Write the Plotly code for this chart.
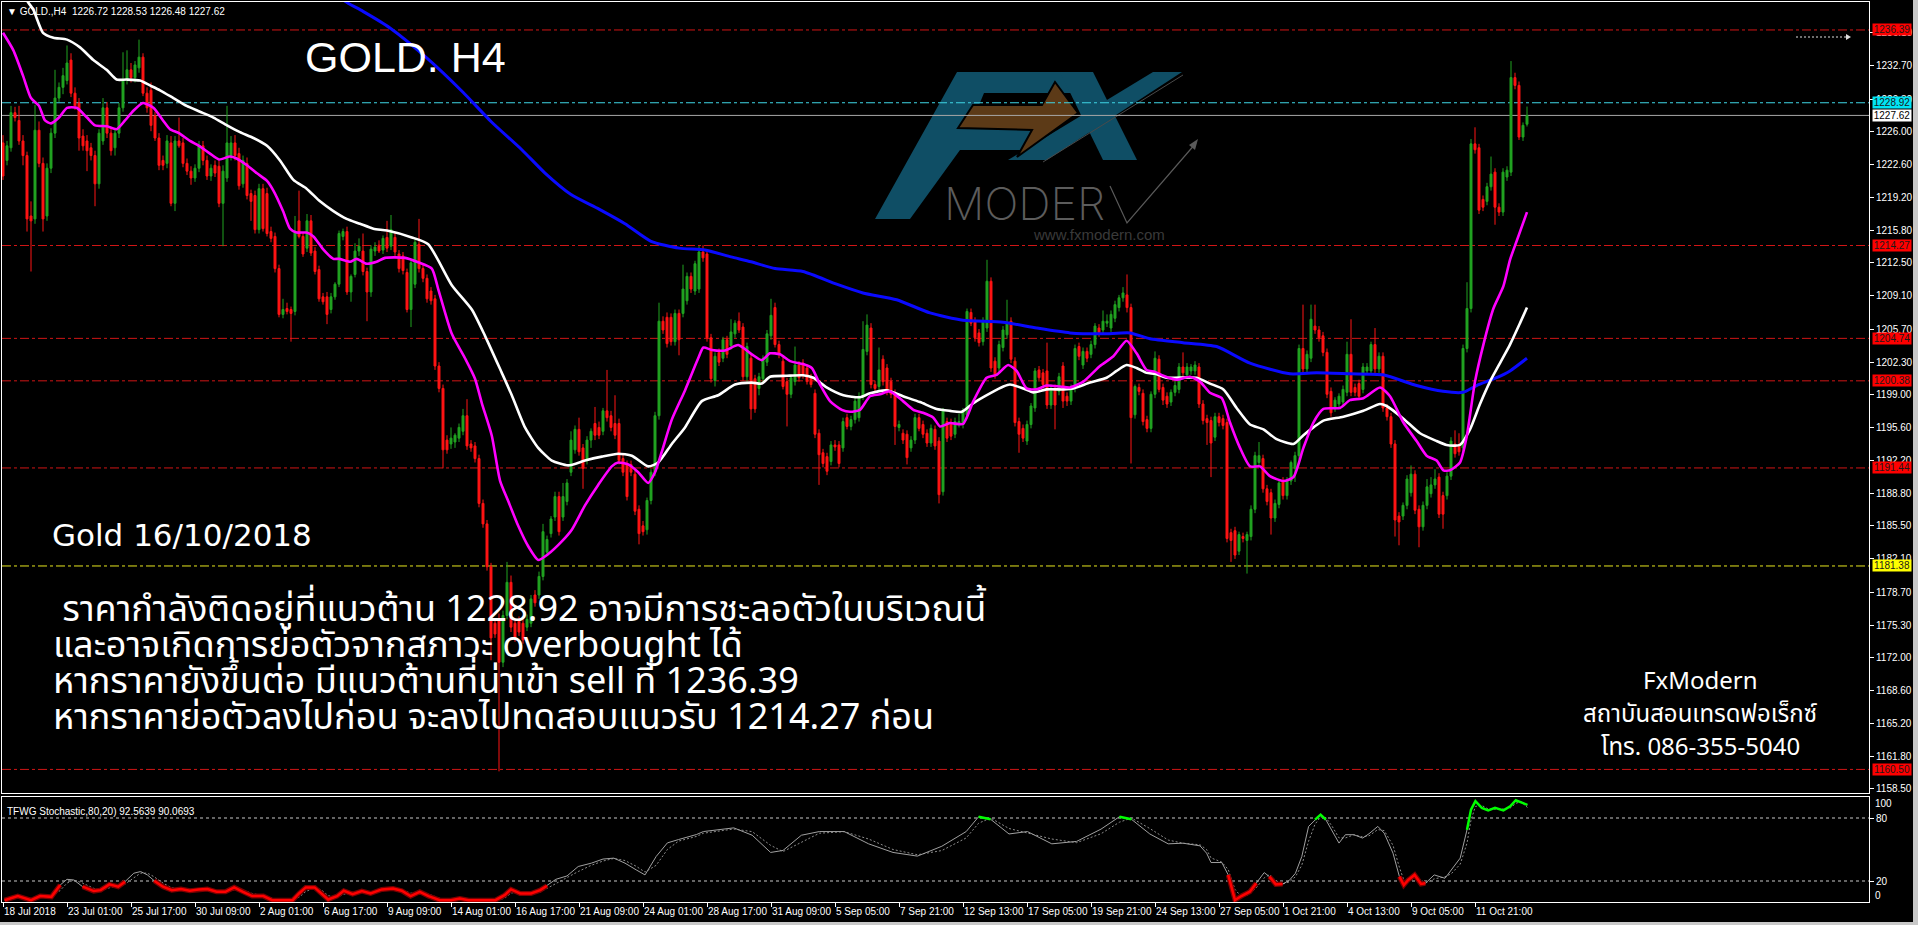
import plotly.graph_objects as go

# ---------------- DATA ----------------
opens = [
1224.8,1223.0,1224.3,1227.9,1227.1,1225.0,1223.5,1217.3,1217.0,1226.1,
1222.7,1217.3,1222.2,1225.8,1229.4,1230.5,1231.2,1233.3,1229.9,1228.9,
1225.5,1225.0,1224.3,1223.5,1220.6,1225.0,1228.4,1225.8,1224.3,1225.8,
1228.4,1231.2,1232.3,1231.5,1232.5,1233.6,1229.9,1230.2,1227.6,1225.3,
1223.0,1222.7,1224.8,1218.6,1225.0,1224.8,1222.7,1221.9,1221.2,1222.2,
1224.5,1223.0,1221.4,1222.5,1222.4,1218.6,1221.2,1223.5,1224.8,1223.7,
1220.6,1222.7,1219.6,1219.4,1215.9,1220.1,1219.6,1215.7,1215.2,1211.9,
1207.2,1207.8,1207.7,1207.5,1216.8,1215.2,1214.0,1216.8,1213.7,1211.8,
1209.0,1209.0,1207.7,1209.0,1210.3,1215.2,1215.7,1209.5,1211.3,1213.7,
1213.7,1211.6,1209.5,1213.7,1214.3,1213.8,1215.1,1214.2,1215.1,1213.4,
1213.2,1211.5,1207.7,1210.3,1214.4,1211.9,1210.9,1209.6,1208.8,1201.9,
1199.6,1194.3,1193.9,1194.1,1194.5,1195.2,1196.8,1193.9,1193.7,1192.4,
1187.8,1185.7,1181.3,1175.5,1175.9,1171.5,1176.3,1179.7,1175.5,1175.7,
1175.5,1175.1,1175.5,1178.4,1178.4,1180.3,1182.8,1184.7,1186.4,1188.5,
1186.4,1188.0,1191.0,1193.3,1195.4,1193.5,1192.2,1194.3,1196.0,1195.6,
1195.2,1197.3,1196.8,1196.0,1196.0,1192.4,1191.8,1191.8,1190.8,1187.2,
1185.5,1185.1,1188.1,1191.0,1196.8,1206.5,1206.9,1206.9,1204.4,1207.3,
1207.3,1208.6,1211.1,1209.6,1209.8,1213.6,1213.4,1204.8,1200.4,1203.3,
1202.7,1204.6,1204.0,1205.2,1206.5,1205.9,1200.8,1202.7,1200.6,1199.6,
1200.6,1202.3,1205.0,1207.9,1204.1,1202.4,1200.3,1199.0,1200.3,1202.0,
1202.2,1201.7,1200.7,1199.1,1195.0,1193.0,1192.6,1192.1,1193.8,1193.8,
1193.5,1196.6,1195.7,1196.4,1196.6,1198.8,1203.4,1205.8,1200.0,1199.8,
1202.6,1201.7,1200.3,1199.1,1195.6,1195.0,1194.9,1193.5,1194.3,1196.6,
1195.9,1195.0,1194.0,1195.4,1194.2,1189.0,1196.2,1196.1,1194.9,1196.0,
1195.9,1196.9,1207.4,1206.5,1205.3,1204.4,1205.8,1210.6,1202.4,1201.7,
1203.8,1205.1,1206.5,1202.4,1196.2,1195.5,1194.2,1195.9,1197.6,1201.5,
1201.2,1201.4,1197.9,1199.6,1199.3,1201.9,1198.8,1198.3,1199.6,1203.9,
1202.0,1203.4,1203.1,1204.1,1205.8,1205.6,1206.3,1205.8,1206.8,1207.9,
1208.9,1209.2,1207.9,1196.9,1199.7,1199.1,1196.4,1195.5,1199.0,1202.6,
1199.7,1198.8,1198.2,1199.2,1199.5,1201.8,1201.0,1201.4,1201.4,1201.8,
1198.0,1196.5,1196.3,1194.6,1196.7,1196.5,1196.1,1184.8,1185.0,1182.9,
1184.4,1184.0,1184.4,1187.2,1192.0,1192.4,1189.3,1188.9,1186.3,1187.7,
1190.1,1188.6,1190.1,1191.4,1192.7,1203.7,1201.6,1202.7,1206.0,1205.6,
1205.0,1203.3,1199.3,1197.6,1198.0,1198.2,1199.2,1203.1,1199.7,1200.1,
1199.5,1201.4,1201.4,1204.1,1201.6,1202.9,1197.6,1196.7,1193.9,1186.5,
1186.5,1187.6,1188.9,1190.8,1187.2,1185.4,1187.6,1188.8,1189.7,1190.5,
1188.6,1188.6,1190.6,1193.9,1193.7,1193.5,1203.7,1207.8,1224.7,1224.3,
1219.0,1218.8,1220.3,1221.8,1218.2,1217.7,1221.3,1221.8,1231.5,1230.7,
1225.4,1226.72]

highs = [
1225.6,1225.0,1228.6,1228.5,1228.6,1225.6,1223.9,1218.8,1228.7,1227.0,
1223.3,1222.7,1226.3,1232.3,1231.0,1232.5,1234.8,1234.0,1230.5,1229.4,
1226.2,1225.6,1224.8,1224.0,1226.2,1229.4,1229.0,1226.3,1226.2,1228.9,
1234.1,1234.3,1233.0,1233.2,1235.4,1234.0,1230.5,1231.0,1228.0,1225.8,
1223.5,1225.6,1225.5,1225.5,1227.4,1225.3,1223.2,1222.4,1222.6,1225.0,
1225.0,1223.5,1222.6,1223.0,1223.0,1222.5,1228.6,1225.5,1225.6,1224.3,
1223.5,1223.3,1220.0,1219.9,1220.6,1220.6,1220.2,1216.2,1215.6,1212.3,
1208.8,1208.4,1208.0,1217.3,1219.9,1215.6,1217.5,1217.4,1214.1,1212.2,
1209.4,1209.5,1209.4,1210.5,1215.8,1216.0,1216.2,1211.3,1214.5,1215.0,
1215.5,1212.0,1214.3,1214.6,1214.8,1215.3,1216.8,1217.4,1215.6,1213.8,
1213.6,1211.9,1212.8,1215.0,1217.0,1212.3,1211.3,1210.0,1209.2,1202.3,
1200.0,1194.8,1195.6,1195.0,1196.0,1197.5,1198.5,1194.3,1194.1,1192.8,
1188.2,1186.1,1181.7,1176.0,1176.5,1176.8,1181.8,1180.4,1176.0,1176.2,
1176.0,1176.4,1178.4,1178.9,1180.8,1185.7,1184.5,1186.5,1189.0,1189.0,
1189.9,1190.3,1195.2,1195.8,1196.6,1193.9,1194.7,1195.5,1197.7,1196.2,
1197.6,1201.5,1197.3,1198.9,1196.5,1192.8,1192.2,1192.2,1191.2,1187.6,
1186.0,1188.4,1191.3,1197.2,1208.4,1207.0,1207.4,1207.3,1207.7,1207.7,
1212.3,1211.5,1211.5,1212.7,1214.2,1214.3,1213.8,1205.2,1203.3,1203.7,
1204.9,1205.0,1206.7,1206.6,1207.4,1206.3,1204.3,1203.1,1201.0,1201.2,
1203.0,1205.6,1208.8,1208.4,1204.5,1202.8,1200.7,1201.0,1203.9,1202.4,
1202.6,1202.1,1201.1,1199.5,1195.4,1193.4,1193.0,1194.2,1194.3,1194.2,
1196.6,1197.0,1196.8,1198.7,1199.2,1206.5,1207.2,1206.3,1200.4,1203.8,
1203.0,1202.1,1200.7,1199.5,1196.3,1195.4,1195.3,1194.7,1197.0,1197.0,
1196.3,1195.4,1195.9,1195.8,1194.6,1197.6,1196.6,1196.5,1196.6,1197.0,
1197.6,1207.8,1207.8,1206.9,1205.7,1206.9,1212.8,1211.0,1202.8,1204.5,
1206.0,1208.7,1206.9,1202.8,1196.6,1195.9,1196.3,1198.1,1201.7,1201.9,
1201.6,1204.3,1200.0,1200.0,1201.2,1202.3,1199.2,1200.0,1204.1,1204.3,
1203.8,1203.8,1204.5,1206.3,1206.2,1207.6,1207.2,1207.6,1208.6,1209.2,
1210.0,1211.3,1208.3,1200.0,1200.1,1199.5,1196.8,1199.3,1203.4,1203.0,
1200.1,1199.2,1199.5,1200.4,1202.2,1203.3,1202.2,1202.1,1202.4,1202.2,
1198.4,1196.9,1196.7,1197.1,1197.1,1196.9,1196.5,1185.2,1185.4,1184.9,
1184.8,1184.9,1187.6,1193.1,1194.1,1192.8,1189.7,1189.3,1188.2,1190.1,
1190.5,1190.5,1192.2,1193.1,1204.1,1208.2,1203.5,1208.2,1208.2,1206.0,
1205.4,1203.7,1199.7,1198.7,1199.1,1199.9,1204.4,1206.7,1200.1,1200.5,
1202.2,1202.2,1204.4,1205.8,1203.3,1203.3,1198.0,1197.1,1194.3,1186.9,
1187.9,1190.7,1191.7,1191.2,1187.6,1188.0,1190.3,1190.5,1191.3,1190.9,
1189.0,1191.0,1194.6,1195.3,1195.0,1204.1,1210.5,1225.2,1226.4,1224.7,
1219.4,1220.7,1223.4,1222.2,1218.6,1222.2,1222.4,1233.2,1232.0,1231.1,
1226.9,1228.53]

lows = [
1221.0,1222.5,1223.9,1227.0,1224.6,1222.5,1215.7,1211.6,1216.5,1222.3,
1215.7,1216.8,1221.7,1225.3,1229.0,1229.8,1230.8,1229.5,1228.2,1224.0,
1224.0,1221.9,1223.0,1218.3,1220.1,1224.6,1225.3,1223.5,1223.5,1225.3,
1228.0,1230.8,1231.0,1231.0,1232.0,1229.6,1227.9,1226.0,1225.0,1222.0,
1222.0,1222.2,1218.3,1217.8,1224.3,1222.3,1221.5,1220.5,1220.8,1221.8,
1222.5,1221.0,1220.9,1221.3,1218.2,1214.2,1220.8,1223.0,1223.0,1220.0,
1220.2,1219.0,1216.8,1215.5,1215.5,1215.7,1215.2,1214.6,1211.5,1206.9,
1206.8,1207.2,1204.4,1207.1,1215.0,1213.1,1213.6,1213.2,1211.3,1208.5,
1208.2,1206.2,1207.3,1208.7,1210.0,1214.8,1209.2,1208.5,1211.0,1213.2,
1211.2,1206.5,1209.0,1213.2,1213.5,1213.4,1213.6,1213.8,1213.2,1211.5,
1211.3,1207.4,1205.9,1209.9,1211.5,1210.5,1208.4,1208.2,1201.5,1199.2,
1191.4,1192.9,1193.4,1193.5,1194.1,1194.8,1193.3,1193.1,1192.0,1187.4,
1185.3,1180.9,1171.7,1174.0,1160.3,1171.0,1175.9,1174.6,1173.6,1174.2,
1173.4,1174.7,1175.1,1177.2,1178.0,1179.9,1182.4,1184.3,1186.0,1184.5,
1186.0,1187.6,1190.6,1192.9,1192.7,1189.3,1191.8,1193.5,1194.3,1194.4,
1194.8,1196.2,1195.2,1194.4,1191.8,1190.6,1188.1,1190.6,1186.6,1183.6,
1184.5,1184.6,1187.7,1190.6,1196.4,1205.2,1203.8,1204.0,1204.0,1203.0,
1206.9,1208.2,1209.4,1209.2,1209.4,1212.6,1204.4,1200.2,1199.8,1201.9,
1202.3,1202.7,1203.6,1204.8,1205.3,1200.4,1200.3,1196.4,1197.1,1198.9,
1200.2,1201.9,1204.6,1203.8,1202.7,1199.5,1195.7,1198.6,1199.9,1200.3,
1200.6,1200.0,1199.7,1194.5,1189.7,1191.5,1190.7,1191.7,1193.2,1191.5,
1193.1,1195.4,1195.3,1196.0,1196.2,1198.4,1203.0,1199.6,1199.3,1199.4,
1199.9,1198.9,1198.6,1193.8,1195.2,1193.9,1191.8,1193.1,1193.9,1195.2,
1194.5,1193.6,1193.6,1193.3,1187.8,1188.6,1194.1,1194.3,1194.5,1195.6,
1195.5,1196.5,1206.0,1204.4,1203.9,1204.0,1205.4,1201.3,1200.6,1201.3,
1203.4,1204.7,1202.2,1195.7,1193.0,1194.1,1193.8,1195.5,1197.2,1200.3,
1199.6,1197.5,1197.5,1195.4,1198.9,1197.6,1197.8,1197.9,1199.2,1202.5,
1201.6,1202.3,1202.7,1203.7,1204.9,1205.2,1205.9,1205.4,1206.4,1207.5,
1208.5,1207.4,1191.9,1196.5,1198.9,1195.8,1195.1,1195.1,1198.6,1199.2,
1197.9,1197.6,1197.8,1198.8,1199.1,1200.8,1200.6,1201.0,1201.0,1197.6,
1195.9,1193.8,1190.5,1194.2,1195.7,1195.4,1183.8,1181.8,1182.1,1182.5,
1183.8,1180.6,1184.0,1186.8,1191.6,1188.9,1187.6,1184.6,1185.9,1187.3,
1188.2,1188.2,1189.7,1190.0,1192.3,1201.2,1201.2,1202.3,1205.2,1204.4,
1202.9,1198.6,1196.7,1197.2,1197.6,1197.8,1198.8,1198.8,1198.8,1198.4,
1199.1,1201.0,1201.0,1201.2,1201.2,1197.2,1196.3,1193.5,1184.4,1183.5,
1186.1,1187.2,1188.5,1186.7,1183.3,1185.0,1187.2,1188.4,1189.3,1186.3,
1185.2,1188.2,1190.2,1192.5,1192.7,1193.1,1203.3,1207.4,1223.7,1217.5,
1217.8,1218.4,1219.9,1216.4,1217.3,1217.3,1220.9,1221.4,1230.3,1225.1,
1225.0,1226.48]

closes = [
1221.4,1224.5,1227.9,1227.4,1225.0,1223.5,1217.0,1216.8,1226.1,1222.7,
1217.0,1222.2,1225.8,1229.4,1230.5,1231.7,1233.0,1229.9,1228.6,1225.3,
1224.5,1224.0,1223.5,1220.6,1225.8,1228.4,1225.8,1224.0,1225.8,1228.4,
1231.2,1232.3,1231.5,1232.8,1233.6,1229.9,1228.4,1226.6,1225.3,1222.5,
1222.5,1225.0,1218.6,1225.0,1224.5,1222.7,1221.9,1221.2,1222.2,1224.5,
1223.0,1221.4,1222.2,1221.7,1218.6,1221.9,1224.8,1224.8,1223.5,1220.4,
1223.0,1219.4,1218.8,1215.9,1220.1,1216.0,1215.5,1215.0,1211.9,1207.2,
1207.7,1207.5,1207.3,1215.7,1215.2,1213.4,1216.8,1213.5,1211.6,1208.8,
1208.5,1207.2,1209.0,1210.3,1215.5,1215.7,1209.5,1211.1,1213.7,1214.2,
1211.6,1209.5,1213.9,1214.1,1213.7,1215.0,1214.0,1215.9,1213.6,1211.9,
1211.7,1207.7,1212.5,1214.6,1211.9,1210.9,1208.8,1208.6,1201.9,1199.6,
1193.3,1193.3,1194.5,1194.8,1195.6,1196.8,1193.7,1193.5,1192.4,1187.8,
1185.7,1181.3,1174.0,1174.4,1171.5,1176.3,1179.7,1175.1,1174.0,1174.6,
1173.8,1175.9,1178.0,1177.6,1180.3,1184.9,1184.1,1186.2,1188.5,1184.9,
1188.5,1189.9,1194.3,1195.4,1193.1,1191.4,1194.3,1195.2,1194.8,1194.8,
1197.3,1196.6,1195.6,1194.8,1192.2,1191.0,1188.5,1191.0,1187.0,1184.7,
1184.9,1188.1,1191.0,1196.8,1206.5,1205.6,1204.2,1204.4,1207.3,1204.6,
1209.8,1211.1,1209.8,1212.4,1213.6,1213.0,1204.8,1200.6,1202.9,1202.3,
1204.6,1203.1,1205.4,1206.3,1205.6,1200.8,1203.9,1197.5,1197.5,1200.8,
1202.7,1205.2,1207.1,1204.1,1203.1,1199.8,1199.0,1200.7,1202.0,1200.7,
1201.0,1200.3,1200.0,1194.9,1192.8,1191.9,1191.1,1193.8,1193.6,1191.9,
1196.2,1195.7,1196.4,1198.3,1198.8,1203.6,1206.1,1200.0,1199.6,1201.5,
1200.3,1199.3,1199.0,1195.7,1195.9,1194.3,1192.5,1194.3,1196.6,1195.5,
1194.9,1194.0,1195.5,1193.7,1188.7,1197.3,1194.5,1194.7,1196.2,1196.2,
1197.3,1207.5,1206.3,1204.8,1204.3,1206.5,1210.6,1201.7,1201.0,1204.1,
1205.6,1206.3,1202.6,1196.1,1194.9,1194.5,1195.9,1197.8,1201.4,1200.7,
1200.0,1197.9,1199.6,1197.9,1200.8,1198.3,1198.3,1199.6,1203.7,1202.9,
1203.4,1202.7,1204.1,1206.0,1205.3,1206.5,1206.5,1207.2,1208.2,1208.9,
1209.4,1207.9,1196.6,1199.8,1199.3,1196.2,1195.5,1199.0,1202.7,1199.5,
1198.4,1198.0,1199.2,1199.9,1201.8,1201.2,1201.8,1201.8,1202.0,1198.0,
1196.3,1196.1,1194.0,1196.7,1196.1,1195.8,1184.2,1184.0,1182.5,1184.6,
1184.2,1184.6,1187.2,1192.7,1192.7,1189.3,1188.0,1186.3,1187.8,1189.9,
1188.6,1190.1,1192.0,1192.7,1203.7,1201.6,1203.1,1206.7,1205.6,1204.8,
1203.3,1199.0,1197.1,1198.4,1198.8,1199.5,1203.1,1199.2,1199.2,1198.8,
1201.8,1201.8,1204.1,1201.6,1202.9,1197.6,1196.7,1193.9,1186.1,1185.9,
1187.6,1190.3,1190.8,1187.1,1185.4,1187.6,1189.5,1189.7,1190.3,1186.7,
1186.7,1190.6,1194.2,1192.9,1193.1,1203.7,1207.8,1224.7,1224.1,1217.9,
1218.2,1220.3,1221.6,1218.2,1217.7,1221.8,1222.0,1231.5,1230.7,1225.4,
1226.6,1227.62]

# moving averages (magenta fast, white medium, blue slow), sampled along the bars
fast_x = [0,2.6,5,7,9,10.5,12,14,16,18.4,
          21,23,26,28.4,30.5,32.6,35,37.6,40,41.75,
          44,46.75,49,51.75,54,56.75,58.4,61,63.4,66,
          67.6,70,71.75,73.4,75.9,77.6,80,82.6,84,86.75,
          88.4,90.9,93.4,95.5,100.5,103.8,107.2,108.8,112.2,115.5,
          118,119.7,122.2,124.25,126.3,128.8,131.3,133.8,136.3,139.7,
          142.2,145.5,148.8,152.2,153.8,156.3,158.8,161.3,163,164.7,
          167.2,170.5,173.8,175.1,177.2,180.5,183.8,187.2,189.7,191.75,
          194.25,196.75,200,202.2,204.25,206.75,209.7,211.75,214.25,216.75,
          219.25,221.75,225,227.6,230,232.6,234.25,236.75,240,242.6,
          245.9,248.4,251.3,253.4,255.9,258.4,260.9,264.25,266.75,270.1,
          274.25,277.6,280.9,283.4,285.9,288,290.1,293.4,296.75,299.25,
          301.75,304.7,306.75,309.25,311.75,314.25,316.75,320.1,322.6,325.1,
          327.6,330.1,334.25,336.75,340.1,344.25,346.75,350.1,353.4,355.9,
          358.4,360.1,361.75,364.25,365.9,368,370.1,372.6,375.1,376.75,
          378.4,381]
fast_y = [1236.1,1234.3,1231.7,1229.4,1228.6,1227.1,1226.8,1227.4,1228.4,1228.4,
          1227.4,1226.6,1226.5,1226.2,1227.1,1228.1,1228.9,1228.4,1227.1,1226.2,
          1225.8,1225.0,1224.5,1223.7,1223.1,1223.4,1223.2,1222.5,1221.7,1220.9,
          1219.9,1217.8,1216.0,1215.6,1215.6,1215.2,1213.9,1212.9,1212.9,1212.6,
          1212.9,1212.4,1212.6,1213.0,1213.0,1212.55,1211.9,1209.8,1205.2,1202.7,
          1200.6,1198.1,1194.75,1190.15,1188.05,1185.5,1183.4,1182.0,1182.6,1183.9,
          1185.1,1187.6,1189.7,1191.6,1192.0,1191.8,1191.0,1189.9,1191.0,1193.1,
          1196.4,1199.4,1202.7,1203.8,1203.55,1203.5,1204.05,1203.1,1202.5,1203.2,
          1203.1,1202.4,1202.1,1201.7,1200.0,1198.3,1197.4,1197.2,1197.4,1198.8,
          1199.0,1199.3,1198.3,1197.4,1197.1,1196.6,1195.7,1196.05,1195.95,1198.3,
          1200.7,1201.0,1202.0,1201.4,1199.6,1199.5,1199.9,1199.8,1199.7,1200.3,
          1201.9,1202.9,1204.5,1203.2,1201.5,1201.3,1200.9,1200.5,1200.8,1200.3,
          1199.15,1198.6,1196.1,1193.5,1191.6,1191.6,1190.6,1190.1,1190.5,1193.5,
          1196.1,1197.5,1197.6,1198.4,1198.6,1199.7,1198.8,1196.1,1194.2,1192.7,
          1192.2,1191.2,1191.2,1192.0,1194.6,1200.3,1204.1,1207.8,1210.1,1212.8,
          1214.7,1217.7]

mid_x = [4,6,7.6,10,12.6,16,19.25,22.6,25.9,28.4,
         30.9,34.25,36.75,39.25,42.6,45.9,49.25,52.6,56,59.25,
         62.6,66,69.25,72.6,75.9,79.25,82.6,85.9,89.25,92.6,
         96,102.2,106.3,112.2,117.2,120.5,124.7,127.2,130.5,133.8,
         137.2,141.3,145.5,149.7,153.8,157.2,161.3,163.8,167.2,170.5,
         174.7,178.8,183,187.2,189.7,191.75,196,200,202.6,205.9,
         210.1,214.25,216.75,220.9,225,229.25,233.4,236.75,239.7,242.6,
         246.75,250.1,251.75,255.1,257.6,260.9,265.1,267.6,271.75,275.9,
         278.4,280.9,283.4,285.9,288,290.9,298.4,301.75,305.1,308.4,
         311.75,315.1,318.4,322.6,325.1,327.6,330.1,335.1,340.1,344.25,
         345.9,350.1,354.25,358.4,360.9,364.25,366.75,369.25,371.75,374.25,
         376.75,379.25,381]
mid_y = [1241.0,1239.4,1238.45,1236.1,1235.6,1235.4,1234.6,1233.3,1232.3,1231.3,
         1231.3,1231.2,1230.7,1230.2,1229.4,1228.6,1228.0,1227.4,1226.6,1225.9,
         1225.3,1224.5,1223.0,1221.0,1220.1,1218.8,1217.8,1217.0,1216.5,1216.0,
         1215.8,1215.1,1214.4,1210.2,1207.7,1205.0,1201.2,1198.9,1195.6,1193.5,
         1192.2,1191.7,1192.2,1192.6,1192.9,1192.7,1191.6,1192.0,1193.9,1195.6,
         1198.3,1198.9,1200.0,1200.2,1200.1,1200.8,1200.9,1200.95,1200.7,1199.7,
         1198.9,1198.7,1199.1,1199.4,1198.8,1198.2,1197.5,1197.3,1197.2,1198.1,
         1199.1,1199.8,1200.0,1199.6,1199.2,1199.5,1199.5,1199.6,1200.2,1200.7,
         1201.4,1202.0,1201.7,1201.2,1201.1,1200.7,1200.7,1200.1,1199.5,1197.6,
         1195.9,1195.4,1194.4,1193.9,1194.8,1195.6,1196.3,1196.7,1197.3,1198.0,
         1197.8,1196.5,1195.0,1194.2,1193.8,1193.8,1195.4,1198.0,1200.3,1202.2,
         1204.1,1206.3,1207.9]

slow_x = [84,86,90,96.75,106,115,122,129.7,135.5,142,
          149,155.5,162,169,175.5,182,187,193,200,208.4,
          215,223.4,231.75,240,250,258.4,266.75,275,281.75,286.75,
          295,303.4,311.75,321.75,328.4,336.75,345,353.4,360,365,
          368.4,373.4,376.75,381]
slow_y = [1239.8,1239.2,1238.3,1236.6,1233.5,1230.0,1227.0,1224.1,1221.7,1219.5,
          1218.0,1216.5,1214.7,1214.0,1213.8,1213.1,1212.6,1211.9,1211.6,1210.3,
          1209.4,1208.7,1207.35,1206.6,1206.4,1205.8,1205.3,1205.2,1205.3,1204.7,
          1204.3,1203.9,1202.2,1201.1,1201.2,1201.1,1201.0,1199.9,1199.3,1199.2,
          1199.9,1200.7,1201.4,1202.7]

# stochastic (main %K and dashed signal), sampled along the bars
stoch_x = [0.4,3.7,7,9.3,12.1,14.3,16,17.7,19.9,22.7,
           24.4,26.6,28.8,30.5,32.7,34.4,36.1,37.8,40,42.2,
           44.5,46.7,48.9,51.1,53.4,55.6,57.8,60,62.3,65.1,
           67.3,70.1,72.4,74,75.7,77.9,79.6,81.3,83.5,85.2,
           87.4,89.7,91.9,94.7,97.5,99.7,101.9,104.2,106.4,109.2,
           112,114.2,116.4,119.8,123.1,125.4,127,129.3,132,134.3,
           136,138.2,141,143.8,147.1,150,152.7,155.5,158.3,160.5,
           163.3,166.1,168.9,173.4,175.1,182.7,187.3,191.9,195,199.6,
           204.1,210.3,216.4,222.5,228.6,234.7,240.8,243.9,246.9,251.5,
           256.1,262.2,268.4,274.5,279.1,282.1,286.7,291.3,295,299.25,
           300.9,302,304.7,306.3,308,309.6,311.7,313.3,315.3,316.6,
           318.2,319.9,321.5,323.1,324.7,326.4,328,329.4,330.7,332.3,
           334,335.6,337.7,339.9,341.5,343.7,345.3,347.5,349.1,350.2,
           351.3,352.9,354.5,355.6,357.8,360.5,362.1,364.3,366,367,
           368.1,369.7,371.3,373,375.1,376.8,378.2,379.5,381.1]
stoch_k = [1.7,5.6,1.7,5.6,4.9,16.2,21.6,21.0,14.6,10.4,
           11.3,16.8,14.6,19.4,27.4,29.0,25.8,20.3,14.6,11.3,
           12.3,10.7,12.0,12.3,9.7,9.7,13.9,9.7,5.6,5.6,
           1.7,1.7,1.7,8.1,13.9,13.9,8.1,2.4,5.6,10.7,
           7.5,10.4,8.1,12.0,12.9,10.7,5.6,9.7,5.6,1.7,
           1.7,3.3,1.7,1.7,1.7,6.5,12.0,8.1,8.1,11.3,
           15.5,21.6,24.8,33.8,37.0,40.9,41.8,37.0,30.6,25.8,
           43.4,56.3,59.5,64.3,67.1,70.6,63.6,47.2,49.1,63.6,
           67.1,67.1,55.4,47.2,43.7,53.1,67.1,81.2,78.8,64.8,
           67.1,55.4,57.7,69.4,81.2,78.8,64.8,55.4,56.0,53.5,
           46.5,37.6,37.6,25.9,1.9,5.7,9.8,17.8,28.0,24.2,
           16.8,17.2,20.3,27.3,43.3,72.0,78.4,83.2,78.4,67.2,
           56.1,64.1,64.1,60.9,65.0,72.0,65.6,46.5,24.2,16.2,
           21.0,25.8,17.2,17.8,25.8,22.6,30.6,41.8,68.8,88.0,
           96.0,89.6,87.3,89.6,87.3,91.2,96.9,95.0,92.56]
stoch_d = [3,4,3.5,4,5,11,18,21,18,13,
           11,13.5,15.5,17,23,27.5,27.5,24,18,13.5,
           12,11.5,11.5,12,11,10,11.5,11.5,8,6,
           3.5,2,1.7,4.5,10,13.5,11.5,6,4.5,7.5,
           8.5,9,9,10.5,12.5,11.5,8.5,7.5,7.5,3.5,
           1.7,2.5,2.5,1.7,1.7,3.5,8.5,10,8.5,9.5,
           13,18,23,29,35,39,41.5,39.5,34,28.5,
           35,50,58,62.5,65.5,69.5,67,54,48,57,
           65.5,67,60,50,45,49,61,75,80,70,
           66,60,56.5,65,76,80,70,59,56,54.5,
           50,42,38,31,12,5,7.5,13.5,23,26,
           20.5,17,19,24,35,58,74,81,80.5,72,
           61,61,64,62,63,69,68,54,33,21,
           19,23,21,18,22,24,27,36,56,78,
           91,92,88.5,88.5,88.5,89.5,94,95.5,90.07]

red_spans = [(0, 14.3), (18.2, 30.5), (37.2, 137.5), (306, 313.5), (316, 320), (348.8, 356)]
green_spans = [(242.5, 248), (278, 283), (327.5, 331.5), (365.5, 381.2)]

# price axis and time axis labels
price_ticks = [1236.10, 1232.70, 1229.30, 1226.00, 1222.60, 1219.20, 1215.80, 1212.50,
               1209.10, 1205.70, 1202.30, 1199.00, 1195.60, 1192.20, 1188.80, 1185.50,
               1182.10, 1178.70, 1175.30, 1172.00, 1168.60, 1165.20, 1161.80, 1158.50]
time_tick_bars = [0, 16, 32, 48, 64, 80, 96, 112, 128, 144, 160, 176,
                  192, 208, 224, 240, 256, 272, 288, 304, 320, 336, 352, 368]
time_tick_labels = ["18 Jul 2018", "23 Jul 01:00", "25 Jul 17:00", "30 Jul 09:00", "2 Aug 01:00",
                    "6 Aug 17:00", "9 Aug 09:00", "14 Aug 01:00", "16 Aug 17:00", "21 Aug 09:00",
                    "24 Aug 01:00", "28 Aug 17:00", "31 Aug 09:00", "5 Sep 05:00", "7 Sep 21:00",
                    "12 Sep 13:00", "17 Sep 05:00", "19 Sep 21:00", "24 Sep 13:00", "27 Sep 05:00",
                    "1 Oct 21:00", "4 Oct 13:00", "9 Oct 05:00", "11 Oct 21:00"]

# horizontal price levels drawn on the chart
level_prices = [1236.39, 1228.92, 1214.27, 1204.74, 1200.38, 1191.44, 1181.38, 1160.50]
level_line_colors = ["#d01515", "#3fd6e6", "#d01515", "#d01515", "#d01515", "#d01515", "#e6e61e", "#d01515"]
level_box_colors = ["#ff0000", "#00e5f5", "#ff0000", "#ff0000", "#ff0000", "#ff0000", "#ffff00", "#ff0000"]
bid_price = 1227.62

# ---------------- FIGURE ----------------
W, H = 1918, 925
PL, PR, PT, PB = 2, 1869, 2, 902          # plot area in pixels
MAIN_BOTTOM, STOCH_TOP = 793, 797


def px(x):
    return (x - PL) / (PR - PL)


def py(y):
    return (PB - y) / (PB - PT)


def poly(points, close=True):
    s = "M " + " L ".join(f"{px(x):.5f},{py(y):.5f}" for x, y in points)
    return s + (" Z" if close else "")


AX_FAMILY = "Liberation Sans, Arial, sans-serif"
TICK_FONT = dict(family=AX_FAMILY, size=10, color="white")
THAI_FONT = "Noto Sans Thai, Loma, Tlwg Typo, Garuda, Waree, Sarabun, Tahoma, Noto Sans, sans-serif"

bars = list(range(len(closes)))
fig = go.Figure()

fig.add_trace(go.Candlestick(
    x=bars, open=opens, high=highs, low=lows, close=closes,
    increasing=dict(line=dict(color="#21a321", width=1), fillcolor="#21a321"),
    decreasing=dict(line=dict(color="#ff1414", width=1), fillcolor="#ff1414"),
    whiskerwidth=0, showlegend=False, hoverinfo="skip", xaxis="x", yaxis="y"))

fig.add_trace(go.Scatter(x=slow_x, y=slow_y, mode="lines", line=dict(color="#0a0aff", width=3, shape="spline", smoothing=0.6),
                         showlegend=False, hoverinfo="skip", xaxis="x", yaxis="y"))
fig.add_trace(go.Scatter(x=mid_x, y=mid_y, mode="lines", line=dict(color="#ffffff", width=2.6, shape="spline", smoothing=0.6),
                         showlegend=False, hoverinfo="skip", xaxis="x", yaxis="y"))
fig.add_trace(go.Scatter(x=fast_x, y=fast_y, mode="lines", line=dict(color="#ff00ff", width=2.6, shape="spline", smoothing=0.6),
                         showlegend=False, hoverinfo="skip", xaxis="x", yaxis="y"))

# stochastic
fig.add_trace(go.Scatter(x=stoch_x, y=stoch_d, mode="lines", line=dict(color="#8c8c8c", width=1, dash="2px,2px"),
                         showlegend=False, hoverinfo="skip", xaxis="x2", yaxis="y2"))
fig.add_trace(go.Scatter(x=stoch_x, y=stoch_k, mode="lines", line=dict(color="#a0a0a0", width=1),
                         showlegend=False, hoverinfo="skip", xaxis="x2", yaxis="y2"))


def span_points(spans):
    xs, ys = [], []
    for a, b in spans:
        for xv, yv in zip(stoch_x, stoch_k):
            if a <= xv <= b:
                xs.append(xv)
                ys.append(yv)
        xs.append(None)
        ys.append(None)
    return xs, ys


rx, ry = span_points(red_spans)
gx, gy = span_points(green_spans)
fig.add_trace(go.Scatter(x=rx, y=ry, mode="lines", line=dict(color="#7a0000", width=5), connectgaps=False,
                         showlegend=False, hoverinfo="skip", xaxis="x2", yaxis="y2"))
fig.add_trace(go.Scatter(x=rx, y=ry, mode="lines", line=dict(color="#ff0000", width=2.5), connectgaps=False,
                         showlegend=False, hoverinfo="skip", xaxis="x2", yaxis="y2"))
fig.add_trace(go.Scatter(x=gx, y=gy, mode="lines", line=dict(color="#00ff00", width=2.5), connectgaps=False,
                         showlegend=False, hoverinfo="skip", xaxis="x2", yaxis="y2"))

shapes = []
# ----- FX MODERN watermark logo -----
teal = "#0f4e65"
shapes.append(dict(type="path", xref="paper", yref="paper", layer="below", line=dict(width=0), fillcolor=teal,
                   path=poly([(875, 219), (957, 72), (1093, 72), (1080, 93), (984, 93), (970, 127),
                              (1047, 127), (1033, 150), (960, 150), (910, 219)])))
shapes.append(dict(type="path", xref="paper", yref="paper", layer="below", line=dict(width=0), fillcolor=teal,
                   path=poly([(1060, 72), (1093, 72), (1137, 160), (1103, 160)])))
shapes.append(dict(type="path", xref="paper", yref="paper", layer="below", line=dict(width=0), fillcolor=teal,
                   path=poly([(1153, 72), (1182, 72), (1047, 160), (1008, 160)])))
shapes.append(dict(type="path", xref="paper", yref="paper", layer="below", line=dict(color="#000000", width=2),
                   fillcolor="#5c3a17",
                   path=poly([(958, 128), (973, 105), (1042, 105), (1055, 82), (1078, 113), (1017, 157), (1032, 130)])))
shapes.append(dict(type="path", xref="paper", yref="paper", layer="below", line=dict(color="#4a4a4a", width=1),
                   path=poly([(1043, 162), (1183, 75)], close=False)))
shapes.append(dict(type="path", xref="paper", yref="paper", layer="below", line=dict(color="#5a5a5a", width=1.2),
                   path=poly([(1110, 186), (1127, 223), (1196, 143)], close=False)))
shapes.append(dict(type="path", xref="paper", yref="paper", layer="below", line=dict(width=0), fillcolor="#5a5a5a",
                   path=poly([(1198, 139), (1189, 145), (1195, 150)])))

# ----- horizontal levels -----
for p, c in zip(level_prices, level_line_colors):
    shapes.append(dict(type="line", xref="paper", x0=0, x1=1, yref="y", y0=p, y1=p, layer="below",
                       line=dict(color=c, width=1, dash="9px,3px,3px,3px")))
shapes.append(dict(type="line", xref="paper", x0=0, x1=1, yref="y", y0=bid_price, y1=bid_price, layer="below",
                   line=dict(color="#a8a8a8", width=1)))
for lv in (80, 20):
    shapes.append(dict(type="line", xref="paper", x0=0, x1=1, yref="y2", y0=lv, y1=lv, layer="below",
                       line=dict(color="#c8c8c8", width=1, dash="3px,3px")))

# shift marker (top right)
shapes.append(dict(type="line", xref="paper", yref="paper", x0=px(1796), x1=px(1846), y0=py(37), y1=py(37),
                   line=dict(color="#dddddd", width=1, dash="2px,2px")))
shapes.append(dict(type="path", xref="paper", yref="paper", line=dict(width=0), fillcolor="#dddddd",
                   path=poly([(1846, 34), (1851, 37), (1846, 40)])))
# light window frame at the right and bottom edges
shapes.append(dict(type="rect", xref="paper", yref="paper", x0=px(1913), x1=px(1920), y0=py(930), y1=py(-5),
                   line=dict(width=0), fillcolor="#c8c8c8"))
shapes.append(dict(type="rect", xref="paper", yref="paper", x0=px(-5), x1=px(1920), y0=py(930), y1=py(922),
                   line=dict(width=0), fillcolor="#c8c8c8"))

annotations = []
# price boxes on the axis
for p, bc in zip(level_prices, level_box_colors):
    annotations.append(dict(xref="paper", x=1, xanchor="left", xshift=3, yref="y", y=p, yanchor="middle",
                            text=f"{p:.2f}", showarrow=False, bgcolor=bc, borderpad=0, width=38, height=11,
                            font=dict(family=AX_FAMILY, size=10, color="#1a1a1a")))
annotations.append(dict(xref="paper", x=1, xanchor="left", xshift=3, yref="y", y=bid_price, yanchor="middle",
                        text=f"{bid_price:.2f}", showarrow=False, bgcolor="#ffffff", borderpad=0, width=38, height=11,
                        font=dict(family=AX_FAMILY, size=10, color="#000000")))
# stochastic 100 / 0 labels
annotations.append(dict(xref="paper", x=1, xanchor="left", xshift=4, yref="paper", y=py(803), yanchor="middle",
                        text="100", showarrow=False, font=TICK_FONT))
annotations.append(dict(xref="paper", x=1, xanchor="left", xshift=4, yref="paper", y=py(895), yanchor="middle",
                        text="0", showarrow=False, font=TICK_FONT))

header = f"▼ GOLD.,H4  {opens[-1]:.2f} {highs[-1]:.2f} {lows[-1]:.2f} {closes[-1]:.2f}"
annotations.append(dict(xref="paper", yref="paper", x=px(5), y=py(11), xanchor="left", yanchor="middle",
                        text=header, showarrow=False, font=TICK_FONT))
annotations.append(dict(xref="paper", yref="paper", x=px(5), y=py(811), xanchor="left", yanchor="middle",
                        text="TFWG Stochastic,80,20) 92.5639 90.0693", showarrow=False, font=TICK_FONT))

# logo texts
annotations.append(dict(xref="paper", yref="paper", x=px(942), y=py(203), xanchor="left", yanchor="middle",
                        text="MODER", showarrow=False,
                        font=dict(family="Inter, Lato, Liberation Sans, sans-serif", size=45, color="#5c5c5c",
                                  weight=200)))
annotations.append(dict(xref="paper", yref="paper", x=px(1099), y=py(235), xanchor="center", yanchor="middle",
                        text="www.fxmodern.com", showarrow=False,
                        font=dict(family="Liberation Sans, Arial, sans-serif", size=15, color="#3a3a3a")))

# chart texts
annotations.append(dict(xref="paper", yref="paper", x=px(303), y=py(57), xanchor="left", yanchor="middle",
                        text="GOLD. H4", showarrow=False,
                        font=dict(family="Liberation Sans, Arial, sans-serif", size=43, color="white")))
annotations.append(dict(xref="paper", yref="paper", x=px(50), y=py(535), xanchor="left", yanchor="middle",
                        text="Gold 16/10/2018", showarrow=False,
                        font=dict(family="DejaVu Sans, sans-serif", size=31, color="white")))
thai_lines = [" ราคากำลังติดอยู่ที่แนวต้าน 1228.92 อาจมีการชะลอตัวในบริเวณนี้",
              "และอาจเกิดการย่อตัวจากสภาวะ overbought ได้",
              "หากราคายังขึ้นต่อ มีแนวต้านที่น่าเข้า sell ที่ 1236.39",
              "หากราคาย่อตัวลงไปก่อน จะลงไปทดสอบแนวรับ 1214.27 ก่อน"]
for i, line in enumerate(thai_lines):
    annotations.append(dict(xref="paper", yref="paper", x=px(51), y=py(610 + 36 * i), xanchor="left",
                            yanchor="middle", text=line, showarrow=False,
                            font=dict(family=THAI_FONT, size=36, color="white")))
right_lines = ["FxModern", "สถาบันสอนเทรดฟอเร็กซ์", "โทร. 086-355-5040"]
for i, line in enumerate(right_lines):
    annotations.append(dict(xref="paper", yref="paper", x=px(1700), y=py(682 + 33 * i), xanchor="center",
                            yanchor="middle", text=line, showarrow=False,
                            font=dict(family=THAI_FONT, size=24, color="white")))

x_range = [(PL - 3) / 4, (PR - 3) / 4]
main_dom = [py(MAIN_BOTTOM), 1]
stoch_dom = [0, py(STOCH_TOP)]

fig.update_layout(
    width=W, height=H, autosize=False,
    margin=dict(l=PL, r=W - PR, t=PT, b=H - PB, pad=0, autoexpand=False),
    paper_bgcolor="black", plot_bgcolor="black",
    showlegend=False,
    xaxis=dict(domain=[0, 1], anchor="y", range=x_range, showgrid=False, zeroline=False, automargin=False,
               showline=True, mirror=True, linecolor="white", linewidth=1,
               showticklabels=False, ticks="", rangeslider=dict(visible=False), fixedrange=True),
    yaxis=dict(domain=main_dom, anchor="x", side="right", range=[1158.08, 1239.26], showgrid=False,
               zeroline=False, showline=True, mirror=True, linecolor="white", linewidth=1, automargin=False,
               tickvals=price_ticks, ticktext=[f"{v:.2f}" for v in price_ticks],
               ticks="outside", ticklen=4, tickcolor="white", tickfont=TICK_FONT),
    xaxis2=dict(domain=[0, 1], anchor="y2", range=x_range, matches="x", showgrid=False, zeroline=False,
                showline=True, mirror=True, linecolor="white", linewidth=1, automargin=False,
                tickvals=time_tick_bars, ticktext=time_tick_labels, ticks="outside", ticklen=4,
                tickcolor="white", tickfont=TICK_FONT, ticklabelposition="outside right", tickangle=0),
    yaxis2=dict(domain=stoch_dom, anchor="x2", side="right", range=[0, 100], showgrid=False,
                zeroline=False, showline=True, mirror=True, linecolor="white", linewidth=1, automargin=False,
                tickvals=[80, 20], ticktext=["80", "20"], ticks="outside", ticklen=4,
                tickcolor="white", tickfont=TICK_FONT),
    shapes=shapes, annotations=annotations,
)

fig.write_html("out.html", config={"displayModeBar": False},
               post_script="document.body.style.margin='0';document.body.style.overflow='hidden';")
